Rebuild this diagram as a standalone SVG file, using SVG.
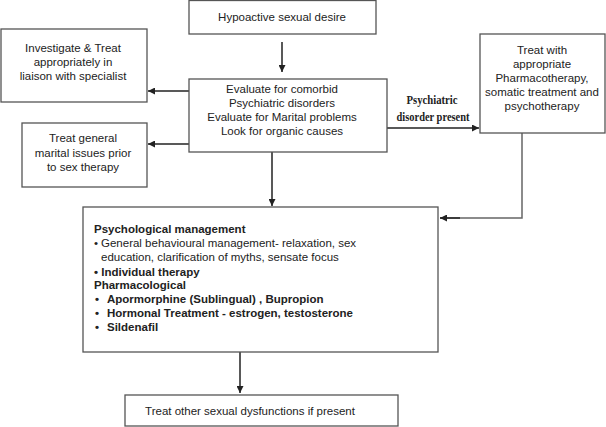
<svg xmlns="http://www.w3.org/2000/svg" width="606" height="427" viewBox="0 0 606 427">
<defs>
<marker id="ah" viewBox="0 0 10 10" refX="10" refY="5" markerWidth="7" markerHeight="7" markerUnits="userSpaceOnUse" orient="auto"><path d="M0,0 L10,5 L0,10 z" fill="#222"/></marker>
<style>
.box{fill:#fff;stroke:#555;stroke-width:1.3}
.t{font-family:"Liberation Sans",Arial,sans-serif;font-size:11.5px;fill:#222}
.c{text-anchor:middle}
.b{font-weight:bold}
.ln{fill:none;stroke:#222;stroke-width:1.5}
.lg{fill:none;stroke:#666;stroke-width:1.5}
.lab{font-family:"Liberation Serif","Times New Roman",serif;font-weight:bold;font-size:13px;fill:#222;text-anchor:middle}
</style>
</defs>
<rect width="606" height="427" fill="#fff"/>
<g id="connectors">
<line class="ln" x1="282" y1="42" x2="282" y2="72" marker-end="url(#ah)"/>
<line class="ln" x1="189" y1="91" x2="148" y2="91" marker-end="url(#ah)"/>
<line class="ln" x1="189" y1="144" x2="148" y2="144" marker-end="url(#ah)"/>
<line class="ln" x1="272" y1="152" x2="272" y2="206" marker-end="url(#ah)"/>
<line class="ln" x1="387" y1="128" x2="479" y2="128" marker-end="url(#ah)"/>
<polyline class="lg" points="522,133 522,218 440,218"/>
<line class="ln" x1="460" y1="218" x2="440" y2="218" marker-end="url(#ah)"/>
<line class="ln" x1="240" y1="352" x2="240" y2="393" marker-end="url(#ah)"/>
<text class="lab" x="432" y="104" textLength="51" lengthAdjust="spacingAndGlyphs">Psychiatric</text>
<text class="lab" x="433" y="121" textLength="73" lengthAdjust="spacingAndGlyphs">disorder present</text>
</g>
<g id="n-hsd">
<rect class="box" x="189" y="0.5" width="187" height="33.5"/>
<text class="t c" x="282" y="21">Hypoactive sexual desire</text>
</g>
<g id="n-evaluate">
<rect class="box" x="189" y="79" width="198" height="73"/>
<text class="t c" x="282" y="93">Evaluate for comorbid</text>
<text class="t c" x="282" y="107">Psychiatric disorders</text>
<text class="t c" x="282" y="121">Evaluate for Marital problems</text>
<text class="t c" x="282" y="135">Look for organic causes</text>
</g>
<g id="n-investigate">
<rect class="box" x="1" y="29" width="146" height="73"/>
<text class="t c" x="73" y="52">Investigate &amp; Treat</text>
<text class="t c" x="73" y="66">appropriately in</text>
<text class="t c" x="73" y="80">liaison with specialist</text>
</g>
<g id="n-marital">
<rect class="box" x="22" y="123" width="125" height="64"/>
<text class="t c" x="83" y="142">Treat general</text>
<text class="t c" x="83" y="157">marital issues prior</text>
<text class="t c" x="83" y="171">to sex therapy</text>
</g>
<g id="n-pharma">
<rect class="box" x="480" y="34" width="125" height="99"/>
<text class="t c" x="542" y="54">Treat with</text>
<text class="t c" x="542" y="68">appropriate</text>
<text class="t c" x="542" y="82">Pharmacotherapy,</text>
<text class="t c" x="542" y="96">somatic treatment and</text>
<text class="t c" x="542" y="110">psychotherapy</text>
</g>
<g id="n-management">
<rect class="box" x="83" y="207" width="355" height="145"/>
<text class="t b" x="94" y="233">Psychological management</text>
<text class="t" x="94" y="247">•</text>
<text class="t" x="101" y="247">General behavioural management- relaxation, sex</text>
<text class="t" x="101" y="261">education, clarification of myths, sensate focus</text>
<text class="t b" x="94" y="276">• Individual therapy</text>
<text class="t b" x="94" y="289">Pharmacological</text>
<text class="t b" x="95" y="303">•</text>
<text class="t b" x="107" y="303">Apormorphine (Sublingual) , Bupropion</text>
<text class="t b" x="95" y="317">•</text>
<text class="t b" x="107" y="317">Hormonal Treatment - estrogen, testosterone</text>
<text class="t b" x="95" y="331">•</text>
<text class="t b" x="107" y="331">Sildenafil</text>
</g>
<g id="n-other">
<rect class="box" x="125" y="395" width="273" height="31"/>
<text class="t c" x="250" y="415">Treat other sexual dysfunctions if present</text>
</g>
</svg>
